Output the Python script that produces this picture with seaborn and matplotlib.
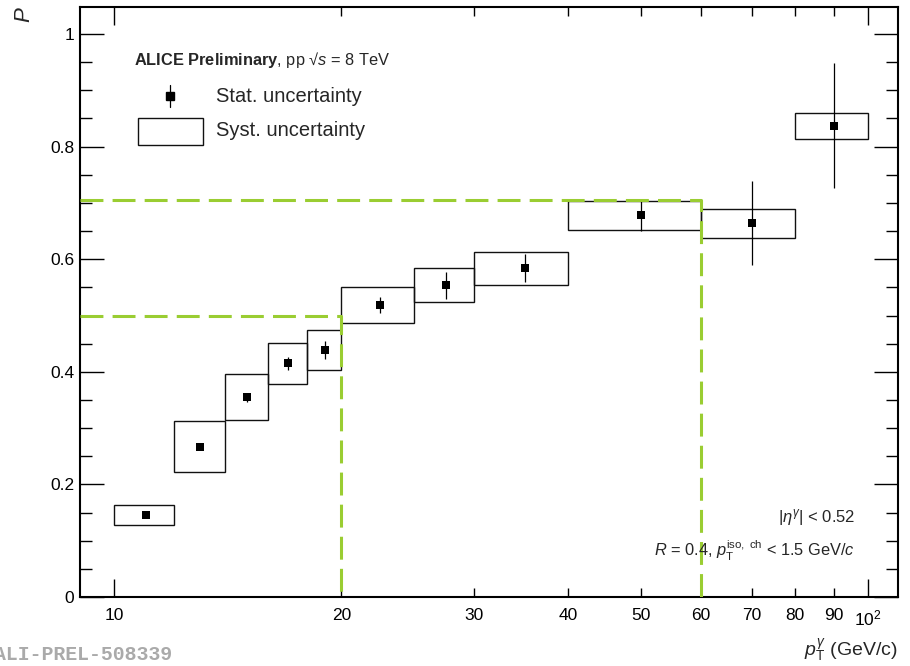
import matplotlib
matplotlib.use("Agg")
import numpy as np
import pandas as pd
import seaborn as sns
import matplotlib.pyplot as plt
from matplotlib.patches import Rectangle
from matplotlib.lines import Line2D
from matplotlib.ticker import FixedLocator, FixedFormatter

# Isolated-photon purity vs photon pT
pt_center = [11, 13, 15, 17, 19, 22.5, 27.5, 35, 50, 70, 90]
bin_lo = [10, 12, 14, 16, 18, 20, 25, 30, 40, 60, 80]
bin_hi = [12, 14, 16, 18, 20, 25, 30, 40, 60, 80, 100]
purity = [0.146, 0.267, 0.355, 0.415, 0.439, 0.519, 0.554, 0.584, 0.678, 0.664, 0.837]
stat_err = [0.004, 0.005, 0.008, 0.011, 0.016, 0.014, 0.024, 0.025, 0.028, 0.075, 0.111]
syst_err = [0.018, 0.045, 0.041, 0.037, 0.036, 0.032, 0.030, 0.029, 0.026, 0.026, 0.023]

# reference guide lines (pT, purity)
guide_pt = [20, 60]
guide_p = [0.5, 0.705]

x_major = [10, 100]
x_major_labels = ["10", r"$10^{2}$"]
x_minor = [20, 30, 40, 50, 60, 70, 80, 90]
x_minor_labels = ["20", "30", "40", "50", "60", "70", "80", "90"]
y_ticks = [0, 0.2, 0.4, 0.6, 0.8, 1.0]
y_tick_labels = ["0", "0.2", "0.4", "0.6", "0.8", "1"]

sns.set_theme(style="ticks")
plt.rcParams["font.family"] = ["Liberation Sans", "DejaVu Sans"]
plt.rcParams["mathtext.fontset"] = "custom"
plt.rcParams["mathtext.rm"] = "Liberation Sans"
plt.rcParams["mathtext.it"] = "Liberation Sans:italic"
plt.rcParams["mathtext.bf"] = "Liberation Sans:bold"

df = pd.DataFrame({"pt": pt_center, "purity": purity, "lo": bin_lo, "hi": bin_hi,
                   "stat": stat_err, "syst": syst_err})

W, H = 910, 666
fig = plt.figure(figsize=(W / 100, H / 100), dpi=100)
fig.patch.set_facecolor("white")
ax = fig.add_axes([80 / W, 1 - 597 / H, 818 / W, 590 / H])
ax.set_facecolor("white")
ax.set_xscale("log")
ax.set_xlim(9.0, 109.5)
ax.set_ylim(0, 1.048)

# systematic uncertainty boxes spanning each pT bin
for _, r in df.iterrows():
    ax.add_patch(Rectangle((r.lo, r.purity - r.syst), r.hi - r.lo, 2 * r.syst,
                           fill=False, edgecolor="#111111", lw=1.0, zorder=3))

# statistical error bars
ax.errorbar(df.pt, df.purity, yerr=df.stat, fmt="none", ecolor="black",
            elinewidth=0.9, capsize=0, zorder=4)
sns.scatterplot(data=df, x="pt", y="purity", marker="s", s=26, color="black",
                edgecolor="black", linewidth=0, ax=ax, zorder=5)

# dashed guide lines
x0 = ax.get_xlim()[0]
for gx, gy in zip(guide_pt, guide_p):
    ax.plot([x0, gx, gx], [gy, gy, 0], color="#9acd32", lw=2.2,
            linestyle=(0, (7.5, 3)), zorder=6, clip_on=False)

ax.set_xlabel("")
ax.set_ylabel("")

ax.xaxis.set_major_locator(FixedLocator(x_major))
ax.xaxis.set_major_formatter(FixedFormatter(x_major_labels))
ax.xaxis.set_minor_locator(FixedLocator(x_minor))
ax.xaxis.set_minor_formatter(FixedFormatter(x_minor_labels))
ax.yaxis.set_major_locator(FixedLocator(y_ticks))
ax.yaxis.set_major_formatter(FixedFormatter(y_tick_labels))
ax.yaxis.set_minor_locator(FixedLocator(np.arange(0.05, 1.05, 0.05)))

ax.tick_params(which="both", direction="in", top=True, right=True,
               colors="black", labelsize=12.5, width=1.0)
ax.tick_params(axis="y", which="major", length=17, pad=4)
ax.tick_params(axis="y", which="minor", length=8.5)
ax.tick_params(axis="x", which="major", length=13, pad=8)
ax.tick_params(axis="x", which="minor", length=6.5, pad=8)

for s in ax.spines.values():
    s.set_visible(True)
    s.set_color("black")
    s.set_linewidth(1.5)

# axis titles
fig.text(25 / W, 1 - 15 / H, "$P$", rotation=90, ha="center", va="center",
         fontsize=16)
fig.text(898 / W, 1 - 650 / H, r"$p_{\mathrm{T}}^{\gamma}$ (GeV/c)", ha="right",
         va="center", fontsize=14)

# header and legend
fig.text(134 / W, 1 - 60 / H,
         r"$\mathbf{ALICE\ Preliminary}$, pp √$s$ = 8 TeV",
         ha="left", va="center", fontsize=11.8)
fig.add_artist(Line2D([170 / W, 170 / W], [1 - 85 / H, 1 - 107 / H],
                      color="black", lw=0.9))
fig.add_artist(Line2D([170 / W], [1 - 96 / H], marker="s", markersize=5.2,
                      color="black", linestyle="none"))
fig.text(216 / W, 1 - 97 / H, "Stat. uncertainty", ha="left", va="center",
         fontsize=14.5)
fig.add_artist(Rectangle((138 / W, 1 - 145 / H), 65 / W, 27 / H, fill=False,
                         edgecolor="#111111", lw=1.0, transform=fig.transFigure))
fig.text(216 / W, 1 - 131 / H, "Syst. uncertainty", ha="left", va="center",
         fontsize=14.5)

# selection annotations
fig.text(855 / W, 1 - 518 / H, r"$|\eta^{\gamma}|$ < 0.52", ha="right",
         va="center", fontsize=12)
fig.text(855 / W, 1 - 551 / H,
         r"$R$ = 0.4, $p_{\mathrm{T}}^{\mathrm{iso,\ ch}}$ < 1.5 GeV/$c$",
         ha="right", va="center", fontsize=11.8)

fig.text(-6 / W, 1 - 655 / H, "ALI-PREL-508339", family="Liberation Mono",
         weight="bold", color="#aaaaaa", fontsize=14.3, ha="left", va="center")

fig.savefig("out.png", dpi=100, facecolor="white")
